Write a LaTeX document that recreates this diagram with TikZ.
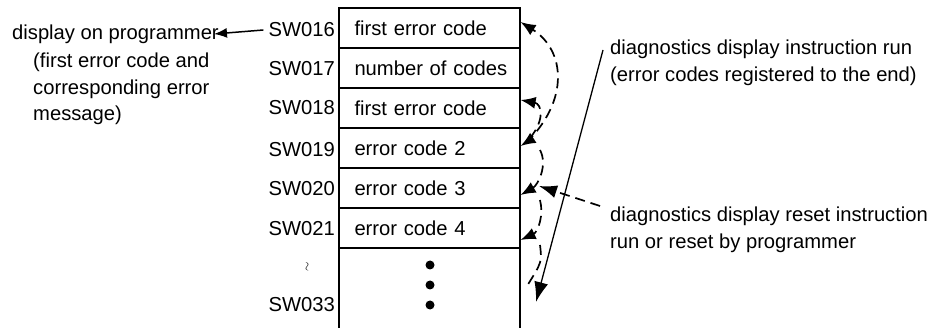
\documentclass[tikz,border=0pt]{standalone}
\usepackage{fontspec}
\setmainfont{Liberation Sans}
\usetikzlibrary{arrows.meta}
\tikzset{
  cell/.style={draw, line width=1.2pt, minimum width=181pt, minimum height=40pt,
    text width=150pt, align=left, inner xsep=15.5pt, inner ysep=0pt},
  swlabel/.style={anchor=east, inner sep=1pt},
  note/.style={anchor=north west, align=left, inner sep=0pt},
  dsh/.style={line width=1.7pt, dash pattern=on 10pt off 6pt},
  dhead/.style={-{Latex[length=15pt,width=12pt]}},
}
\begin{document}
\begin{tikzpicture}[x=1pt,y=-1pt,font=\fontsize{20.2}{26.5}\selectfont]
\useasboundingbox (0,0) rectangle (936,328);
% memory area
\node[cell] (c16) at (429.5,28) {first error code};
\node[cell] (c17) at (429.5,68) {\mbox{number of codes}};
\node[cell] (c18) at (429.5,108) {first error code};
\node[cell] (c19) at (429.5,148) {error code 2};
\node[cell] (c20) at (429.5,188) {error code 3};
\node[cell] (c21) at (429.5,228) {error code 4};
\node[draw, line width=1.2pt, minimum width=181pt, minimum height=84pt] (crest) at (429.5,290) {};
\foreach \y in {265,285,305}
  \fill (430,\y) circle (4.5pt);
% addresses
\node[swlabel] (sw16) at (336,30) {SW016};
\node[swlabel] (sw17) at (336,69) {SW017};
\node[swlabel] (sw18) at (336,108) {SW018};
\node[swlabel] (sw19) at (336,150) {SW019};
\node[swlabel] (sw20) at (336,189) {SW020};
\node[swlabel] (sw21) at (336,229) {SW021};
\node[font=\fontsize{12}{12}\selectfont] (tld) at (308,267) {\rotatebox{90}{$\sim$}};
\node[swlabel] (sw33) at (336,305) {SW033};
% programmer side
\node[anchor=west, inner sep=0pt] (disp) at (12,34) {display on programmer};
\node[note] (dispnote) at (33,53) {(first error code and\\corresponding error\\message)};
\draw[line width=1.5pt, -{Latex[length=13pt,width=10pt]}] ([xshift=-4pt]sw16.west) -- ([xshift=-5pt]disp.east);
% instruction notes
\node[note] (run) at (610,40) {diagnostics display instruction run\\(error codes registered to the end)};
\node[note] (reset) at (610,207) {diagnostics display reset instruction\\run or reset by programmer};
\coordinate (runstart) at (603,50);
\coordinate (runend) at (536,302);
\draw[line width=1.3pt, -{Latex[length=20pt,width=14pt]}] (runstart) -- (runend);
\coordinate (resetstart) at (600,206);
\coordinate (resetend) at (539,186);
\draw[dsh, -{Latex[length=18pt,width=13pt]}] (resetstart) -- (resetend);
% registering chain
\draw[dsh, dhead] (526,143) .. controls (570,100) and (565,50) .. (c16.east |- 0,22);
\draw[dsh, dhead] (530,138) .. controls (545,120) and (542,104) .. (c18.east |- 0,100);
\draw[dsh, dhead] (530,140) -- (c19.east |- 0,146);
\draw[dsh, dhead] (540,150) .. controls (548,165) and (538,185) .. (c20.east |- 0,195);
\draw[dsh, dhead] (540,200) .. controls (544,215) and (538,232) .. (c21.east |- 0,240);
\draw[dsh] (540,245) .. controls (542,262) .. (527,286);
\end{tikzpicture}
\end{document}
